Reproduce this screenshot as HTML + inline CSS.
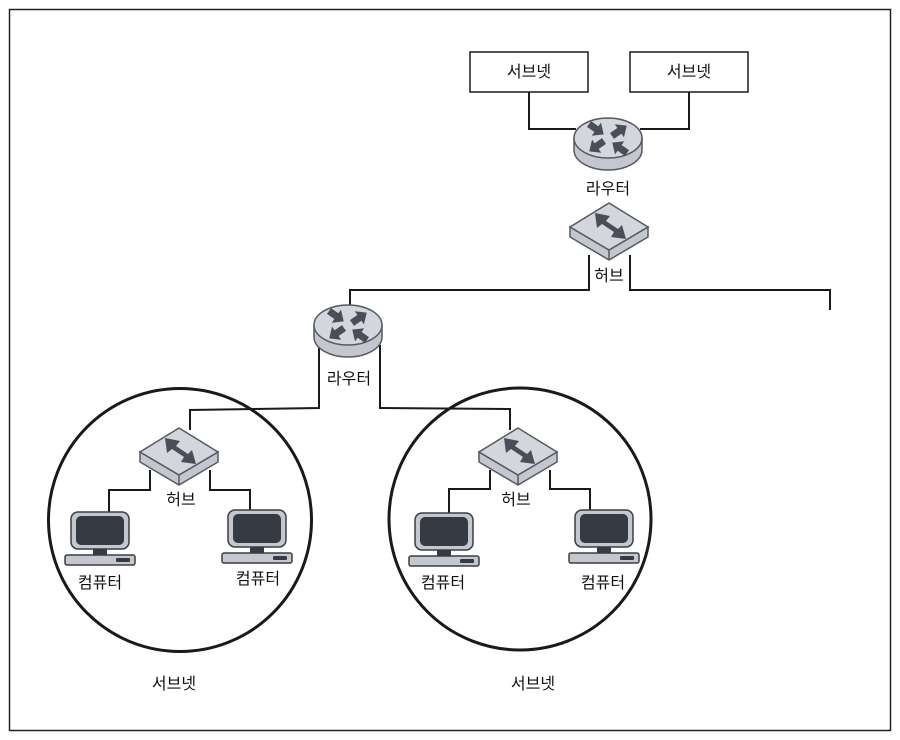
<!DOCTYPE html>
<html><head><meta charset="utf-8"><style>
html,body{margin:0;padding:0;background:#fff;}
svg{display:block;}
text{font-family:"Liberation Sans","Noto Sans CJK KR","NanumGothic",sans-serif;font-size:16px;fill:#111;text-anchor:middle;}
</style></head><body>
<svg width="900" height="740" viewBox="0 0 900 740" xmlns="http://www.w3.org/2000/svg">
<defs>
  <g id="ar">
    <path d="M0,-3.5 L9,-3.5 L9,-8 L18,0 L9,8 L9,3.5 L0,3.5 Z" fill="#4a4f57"/>
  </g>
  <g id="router">
    <path d="M-34,0 L-34,12 A34,20 0 0 0 34,12 L34,0 Z" fill="#c4c7cd" stroke="#555a62" stroke-width="1.5"/>
    <ellipse cx="0" cy="0" rx="34" ry="20" fill="#d3d6dc" stroke="#555a62" stroke-width="1.5"/>
    <use href="#ar" transform="translate(-19,-14) rotate(35)"/>
    <use href="#ar" transform="translate(4,-2) rotate(-35)"/>
    <use href="#ar" transform="translate(-4,3) rotate(145)"/>
    <use href="#ar" transform="translate(19,15) rotate(-145)"/>
  </g>
  <g id="hub">
    <path d="M-39,24 L0,47 L39,24 L39,34 L0,57 L-39,34 Z" fill="#c4c7cd" stroke="#555a62" stroke-width="1.5"/>
    <path d="M0,0 L39,24 L0,47 L-39,24 Z" fill="#d3d6dc" stroke="#555a62" stroke-width="1.5"/>
    <path d="M0,47 L0,57" stroke="#555a62" stroke-width="1.5"/>
    <path d="M-14,10 L-12,25 L-7,21 L5,29 L2,34 L17,36 L13,22 L9,26 L-3,18 L1,13 Z" fill="#4a4f57"/>
  </g>
  <g id="pc">
    <rect x="0" y="0" width="58" height="37" rx="7" fill="#c4c7cd" stroke="#3a3e45" stroke-width="1.5"/>
    <rect x="5" y="4" width="48" height="29" rx="5" fill="#353a43"/>
    <rect x="22" y="37" width="14" height="6" fill="#353a43"/>
    <rect x="-6" y="43" width="70" height="10" rx="2" fill="#c4c7cd" stroke="#3a3e45" stroke-width="1.5"/>
    <rect x="45" y="46" width="14" height="4" rx="1" fill="#353a43"/>
  </g>
</defs>

<rect x="9.5" y="9.5" width="881" height="721" fill="none" stroke="#222" stroke-width="1.5"/>

<g fill="none" stroke="#1a1a1a" stroke-width="2">
  <rect x="470" y="52" width="118" height="40" fill="#fff" stroke-width="1.5"/>
  <rect x="630" y="52" width="118" height="40" fill="#fff" stroke-width="1.5"/>
  <polyline points="529,92 529,129 576,129"/>
  <polyline points="689,92 689,129 640,129"/>
  <polyline points="589,255 589,290 350,290 350,306"/>
  <polyline points="630,255 630,290 830,290 830,310"/>
  <polyline points="319,345 319,408 190,410 190,430"/>
  <polyline points="380,345 380,408 510,409 510,430"/>
  <polyline points="150,470 150,490 109,490 109,512"/>
  <polyline points="210,470 210,490 250,490 250,510"/>
  <polyline points="490,470 490,489 449,489 449,513"/>
  <polyline points="550,470 550,489 590,489 590,510"/>
  <circle cx="180" cy="520" r="131.5" stroke-width="3"/>
  <circle cx="520" cy="519" r="131" stroke-width="3"/>
</g>

<text x="529" y="77">서브넷</text>
<text x="689" y="77">서브넷</text>

<use href="#router" x="608" y="138"/>
<text x="608" y="194">라우터</text>
<use href="#hub" x="609" y="203"/>
<text x="609" y="281">허브</text>

<use href="#router" x="348" y="325"/>
<text x="349" y="384">라우터</text>

<use href="#hub" x="179" y="428"/>
<text x="181" y="505">허브</text>
<use href="#pc" x="71" y="512"/>
<use href="#pc" x="228" y="510"/>
<text x="100" y="588">컴퓨터</text>
<text x="258" y="584">컴퓨터</text>
<text x="174" y="689">서브넷</text>

<use href="#hub" x="518" y="428"/>
<text x="516" y="505">허브</text>
<use href="#pc" x="415" y="513"/>
<use href="#pc" x="575" y="510"/>
<text x="443" y="588">컴퓨터</text>
<text x="603" y="588">컴퓨터</text>
<text x="533" y="689">서브넷</text>
</svg>
</body></html>
